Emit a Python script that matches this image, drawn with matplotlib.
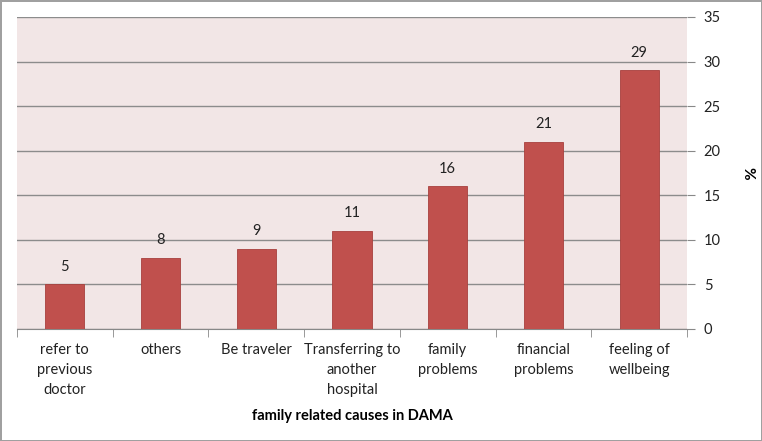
import matplotlib
matplotlib.use("Agg")
from matplotlib import pyplot as plt
import numpy as np

categories = ["refer to\nprevious\ndoctor", "others", "Be traveler",
              "Transferring to\nanother\nhospital", "family\nproblems",
              "financial\nproblems", "feeling of\nwellbeing"]
values = [5, 8, 9, 11, 16, 21, 29]
yticks = [0, 5, 10, 15, 20, 25, 30, 35]

plt.rcParams['font.family'] = ['Lato', 'DejaVu Sans']

fig = plt.figure(figsize=(7.62, 4.41), dpi=100)
fig.patch.set_facecolor("white")
fig.patch.set_edgecolor("#a0a0a0")
fig.patch.set_linewidth(2)

ax = fig.add_axes([0.0223, 0.254, 0.8793, 0.7075])
ax.set_facecolor("#f2e6e6")
x = np.arange(len(categories))
ax.bar(x, values, width=0.41, color="#c0504d", edgecolor="#a8403d", linewidth=0.6, zorder=3)
for xi, v in zip(x, values):
    ax.text(xi, v + 1.2, str(v), ha="center", va="bottom", fontsize=10.5, color="#222222")

ax.set_xlim(-0.5, len(categories) - 0.5)
ax.set_ylim(0, 35)
ax.yaxis.tick_right()
ax.set_yticks(yticks)
ax.tick_params(axis="y", length=6, color="#888888", labelsize=10.5, labelcolor="#222222", pad=6)
ax.grid(axis="y", color="#8c8c8c", linewidth=1, zorder=1)
ax.set_axisbelow(True)

ax.set_xticks(x)
ax.set_xticklabels(categories, fontsize=10.5, color="#222222", linespacing=1.55, va="top")
ax.tick_params(axis="x", length=0, pad=10)
ax.set_xticks(np.arange(-0.5, len(categories)), minor=True)
ax.tick_params(axis="x", which="minor", length=6, color="#888888")

for s in ["top", "left", "right"]:
    ax.spines[s].set_visible(False)
ax.spines["bottom"].set_color("#888888")

ax.set_xlabel("family related causes in DAMA", fontsize=10.5, fontweight="bold", labelpad=9)
ax.yaxis.set_label_position("right")
ax.set_ylabel("%", fontsize=11, fontweight="bold", rotation=-90, labelpad=14, va="bottom")

fig.savefig("out.png", dpi=100)
